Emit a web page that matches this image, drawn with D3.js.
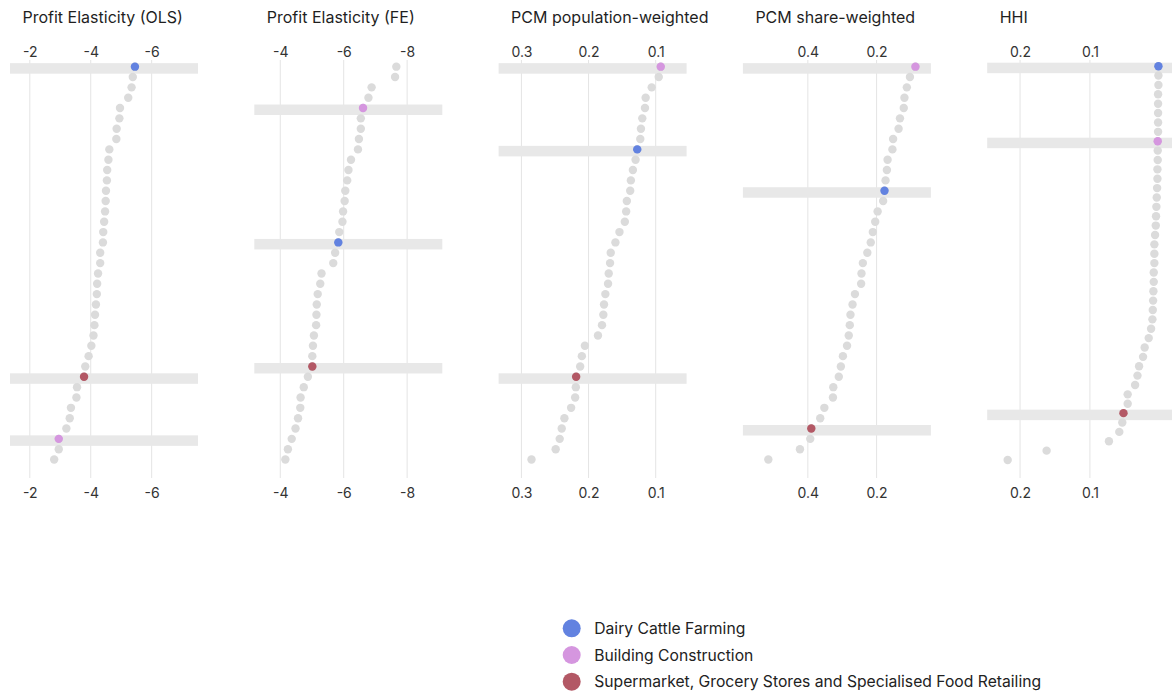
<!DOCTYPE html>
<html>
<head>
<meta charset="utf-8">
<script src="https://cdn.jsdelivr.net/npm/d3@7"></script>
<style>
  body { margin: 0; background: #fff; }
  svg { display: block; font-family: Inter, "Helvetica Neue", Arial, sans-serif; }
</style>
</head>
<body>
<svg id="chart" width="1172" height="695"></svg>
<script>
const industries = ["Dairy Cattle Farming", "Building Construction", "Supermarket, Grocery Stores and Specialised Food Retailing"];
const industryColors = ["#6282e0", "#d596df", "#b35865"];

const panelTitles = ["Profit Elasticity (OLS)", "Profit Elasticity (FE)", "PCM population-weighted", "PCM share-weighted", "HHI"];

// values per panel, in row order (top to bottom)
const olsValues = [-5.45, -5.38, -5.34, -5.23, -4.96, -4.94, -4.85, -4.84, -4.61, -4.58,
  -4.54, -4.53, -4.50, -4.49, -4.47, -4.44, -4.41, -4.40, -4.31, -4.31,
  -4.24, -4.21, -4.20, -4.17, -4.14, -4.12, -4.09, -4.02, -3.93, -3.82,
  -3.78, -3.55, -3.53, -3.35, -3.31, -3.20, -2.95, -2.95, -2.80];
const feValues = [-7.66, -7.62, -6.88, -6.78, -6.61, -6.54, -6.54, -6.48, -6.45, -6.23,
  -6.15, -6.11, -6.05, -6.03, -5.98, -5.96, -5.86, -5.83, -5.73, -5.67,
  -5.30, -5.26, -5.18, -5.15, -5.14, -5.13, -5.06, -5.03, -5.01, -5.01,
  -4.87, -4.74, -4.64, -4.63, -4.56, -4.48, -4.36, -4.24, -4.16];
const pcmPopValues = [0.0925, 0.0955, 0.106, 0.115, 0.116, 0.120, 0.122, 0.123, 0.1275, 0.130,
  0.134, 0.137, 0.138, 0.143, 0.144, 0.146, 0.154, 0.160, 0.167, 0.168,
  0.170, 0.171, 0.175, 0.177, 0.178, 0.180, 0.186, 0.2055, 0.210, 0.2125,
  0.2185, 0.219, 0.220, 0.226, 0.236, 0.240, 0.243, 0.249, 0.285];
const pcmShareValues = [0.087, 0.103, 0.112, 0.119, 0.121, 0.132, 0.136, 0.152, 0.154, 0.168,
  0.170, 0.174, 0.177, 0.181, 0.197, 0.204, 0.211, 0.217, 0.227, 0.240,
  0.244, 0.245, 0.263, 0.270, 0.276, 0.278, 0.281, 0.286, 0.298, 0.304,
  0.310, 0.326, 0.327, 0.352, 0.364, 0.390, 0.393, 0.423, 0.515];
const hhiValues = [0.0020, 0.0020, 0.0020, 0.0025, 0.0025, 0.0025, 0.0025, 0.0025, 0.0030, 0.0030,
  0.0030, 0.0034, 0.0034, 0.0039, 0.0044, 0.0049, 0.0054, 0.0058, 0.0068, 0.0078,
  0.0078, 0.0078, 0.0087, 0.0087, 0.0092, 0.0096, 0.0101, 0.0106, 0.0125, 0.0159,
  0.0217, 0.024, 0.0297, 0.032, 0.0354, 0.046, 0.046, 0.052, 0.0537, 0.058,
  0.0728, 0.162, 0.2177];

// row of each highlighted industry (dairy, building, supermarket) in each panel
const olsHighlight = [0, 36, 30];
const feHighlight = [17, 4, 29];
const pcmPopHighlight = [8, 0, 30];
const pcmShareHighlight = [12, 0, 35];
const hhiHighlight = [0, 8, 37];

const panelDomains = [[-1.35, -7.52], [-3.18, -9.11], [0.334, 0.054], [0.589, 0.042], [0.247, -0.022]];
const panelTicks = [[-2, -4, -6], [-4, -6, -8], [0.3, 0.2, 0.1], [0.4, 0.2], [0.2, 0.1]];

const panelValues = [olsValues, feValues, pcmPopValues, pcmShareValues, hhiValues];
const panelHighlights = [olsHighlight, feHighlight, pcmPopHighlight, pcmShareHighlight, hhiHighlight];

const svg = d3.select("#chart");
const panelLeft = 10, panelStep = 244.3, panelWidth = 188;
const rowTop = 61.5, rowBottom = 464.7, gridTop = 60, gridBottom = 478;

panelTitles.forEach((title, p) => {
    const values = panelValues[p];
    const highlight = panelHighlights[p];
    const g = svg.append("g")
        .attr("transform", `translate(${panelLeft + p * panelStep},0)`);

    const x = d3.scaleLinear().domain(panelDomains[p]).range([0, panelWidth]);
    const y = d3.scalePoint()
        .domain(d3.range(values.length))
        .range([rowTop, rowBottom])
        .padding(0.5);

    g.append("text")
        .attr("x", 12.5)
        .attr("y", 22.7)
        .attr("font-size", 16)
        .attr("fill", "#1f1f1f")
        .text(title);

    g.selectAll("line.grid")
        .data(panelTicks[p])
        .join("line")
        .attr("class", "grid")
        .attr("x1", d => x(d))
        .attr("x2", d => x(d))
        .attr("y1", gridTop)
        .attr("y2", gridBottom)
        .attr("stroke", "#e4e4e4")
        .attr("stroke-width", 1);

    const fmt = d => String(d);
    g.append("g")
        .attr("transform", `translate(0,${gridTop})`)
        .call(d3.axisTop(x).tickValues(panelTicks[p]).tickSize(0).tickPadding(3.5).tickFormat(fmt))
        .call(a => a.select(".domain").remove())
        .attr("font-family", null)
        .attr("font-size", 14)
        .attr("color", "#333");
    g.append("g")
        .attr("transform", `translate(0,${gridBottom})`)
        .call(d3.axisBottom(x).tickValues(panelTicks[p]).tickSize(0).tickPadding(9.8).tickFormat(fmt))
        .call(a => a.select(".domain").remove())
        .attr("font-family", null)
        .attr("font-size", 14)
        .attr("color", "#333");

    // highlight bands
    g.selectAll("rect.band")
        .data(highlight)
        .join("rect")
        .attr("class", "band")
        .attr("x", 0)
        .attr("width", panelWidth)
        .attr("y", d => y(d) - 3.5)
        .attr("height", 10.5)
        .attr("fill", "#e8e8e8");

    g.selectAll("circle.dot")
        .data(values)
        .join("circle")
        .attr("class", "dot")
        .attr("cx", d => x(d))
        .attr("cy", (d, i) => y(i))
        .attr("r", 4.2)
        .attr("fill", "#dbdbdb");

    g.selectAll("circle.hl")
        .data(highlight)
        .join("circle")
        .attr("class", "hl")
        .attr("cx", d => x(values[d]))
        .attr("cy", d => y(d))
        .attr("r", 4.2)
        .attr("fill", (d, i) => industryColors[i]);
});

const legend = svg.append("g").attr("transform", "translate(571.7,628.3)");
legend.selectAll("g")
    .data(industries)
    .join("g")
    .attr("transform", (d, i) => `translate(0,${i * 26.7})`)
    .each(function (d, i) {
        const item = d3.select(this);
        item.append("circle").attr("r", 9).attr("fill", industryColors[i]);
        item.append("text")
            .attr("x", 22.5)
            .attr("dy", "0.36em")
            .attr("font-size", 15.7)
            .attr("fill", "#222")
            .text(d);
    });
</script>
</body>
</html>
